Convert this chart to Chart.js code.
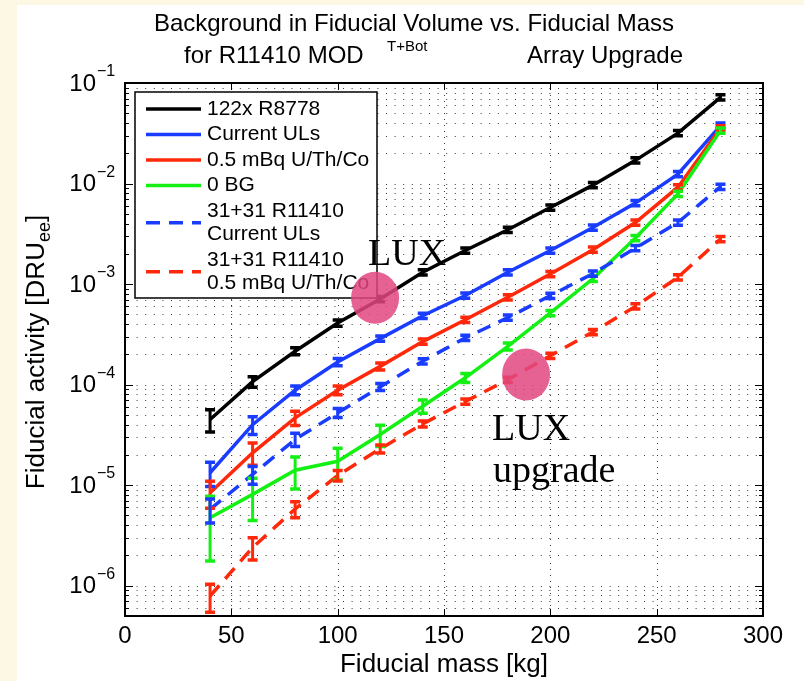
<!DOCTYPE html>
<html>
<head>
<meta charset="utf-8">
<title>Background in Fiducial Volume vs. Fiducial Mass</title>
<script src="https://cdn.jsdelivr.net/npm/chart.js@4.4.1/dist/chart.umd.min.js"></script>
<style>
  html, body { margin: 0; padding: 0; background: #fff; }
  #wrap { width: 804px; height: 681px; }
</style>
</head>
<body>
<div id="wrap"><canvas id="bgChart" width="804" height="681"></canvas></div>
<script>
// ---- data ----
const MASS_KG = [40, 60, 80, 100, 120, 140, 160, 180, 200, 220, 240, 260, 280];

const R8778_122X   = [4.5e-5, 1.07e-4, 2.15e-4, 4.1e-4, 7.1e-4, 1.31e-3, 2.16e-3, 3.47e-3, 5.78e-3, 9.64e-3, 1.70e-2, 3.17e-2, 7.2e-2];
const CURRENT_ULS  = [1.33e-5, 4.0e-5, 8.8e-5, 1.68e-4, 2.87e-4, 4.85e-4, 7.7e-4, 1.31e-3, 2.16e-3, 3.66e-3, 6.39e-3, 1.24e-2, 3.77e-2];
const LOW_UTHCO    = [8.4e-6, 2.1e-5, 4.68e-5, 8.8e-5, 1.52e-4, 2.68e-4, 4.42e-4, 7.4e-4, 1.26e-3, 2.2e-3, 4.1e-3, 9.2e-3, 3.55e-2];
const ZERO_BG      = [4.75e-6, 8.1e-6, 1.41e-5, 1.73e-5, 3.19e-5, 6.1e-5, 1.17e-4, 2.4e-4, 5.16e-4, 1.13e-3, 2.87e-3, 7.9e-3, 3.36e-2];
const R11410_ULS   = [5.75e-6, 1.28e-5, 2.85e-5, 5.25e-5, 9.5e-5, 1.71e-4, 2.92e-4, 4.64e-4, 7.67e-4, 1.27e-3, 2.28e-3, 4.1e-3, 9.3e-3];
const R11410_UTHCO = [7.9e-7, 2.4e-6, 5.8e-6, 1.25e-5, 2.3e-5, 4.07e-5, 6.8e-5, 1.12e-4, 1.94e-4, 3.34e-4, 6.0e-4, 1.17e-3, 2.8e-3];

// error bars, as fraction of the value (+/-)
const ERR_R8778_122X   = [0.25, 0.12, 0.08, 0.07, 0.06, 0.06, 0.06, 0.06, 0.06, 0.06, 0.06, 0.06, 0.06];
const ERR_CURRENT_ULS  = [0.27, 0.20, 0.10, 0.08, 0.06, 0.06, 0.06, 0.06, 0.06, 0.06, 0.06, 0.06, 0.06];
const ERR_LOW_UTHCO    = [0.30, 0.25, 0.16, 0.10, 0.08, 0.06, 0.06, 0.06, 0.06, 0.06, 0.06, 0.06, 0.06];
const ERR_ZERO_BG      = [0.63, 0.45, 0.35, 0.35, 0.24, 0.15, 0.10, 0.08, 0.06, 0.06, 0.06, 0.06, 0.06];
const ERR_R11410_ULS   = [0.27, 0.20, 0.15, 0.10, 0.08, 0.06, 0.06, 0.06, 0.06, 0.06, 0.06, 0.06, 0.06];
const ERR_R11410_UTHCO = [0.31, 0.25, 0.18, 0.12, 0.09, 0.07, 0.06, 0.06, 0.06, 0.06, 0.06, 0.06, 0.06];

const LEGEND_LABELS = [
    ['122x R8778'],
    ['Current ULs'],
    ['0.5 mBq U/Th/Co'],
    ['0 BG'],
    ['31+31 R11410', 'Current ULs'],
    ['31+31 R11410', '0.5 mBq U/Th/Co']
];

const X_TICKS = [0, 50, 100, 150, 200, 250, 300];
const Y_TICKS = [1e-6, 1e-5, 1e-4, 1e-3, 1e-2, 1e-1];
const Y_TICK_EXP = ['\u22126', '\u22125', '\u22124', '\u22123', '\u22122', '\u22121'];

// ---- styles ----
const SANS = '"Liberation Sans", Arial, Helvetica, sans-serif';
const SERIF = '"Liberation Serif", "Times New Roman", serif';
const BLUE = '#193cff';
const RED = '#ff280a';
const GREEN = '#14f014';
const DASH = [14, 9];

function makeSet(label, values, err, color, dash) {
    return {
        label: label.join(' '),
        data: MASS_KG.map((m, i) => ({ x: m, y: values[i] })),
        errFrac: err,
        legendLines: label,
        borderColor: color,
        backgroundColor: color,
        borderWidth: 3.5,
        borderDash: dash,
        pointRadius: 0,
        tension: 0,
        fill: false
    };
}

const datasets = [
    makeSet(LEGEND_LABELS[0], R8778_122X, ERR_R8778_122X, '#000000', []),
    makeSet(LEGEND_LABELS[1], CURRENT_ULS, ERR_CURRENT_ULS, BLUE, []),
    makeSet(LEGEND_LABELS[2], LOW_UTHCO, ERR_LOW_UTHCO, RED, []),
    makeSet(LEGEND_LABELS[3], ZERO_BG, ERR_ZERO_BG, GREEN, []),
    makeSet(LEGEND_LABELS[4], R11410_ULS, ERR_R11410_ULS, BLUE, DASH),
    makeSet(LEGEND_LABELS[5], R11410_UTHCO, ERR_R11410_UTHCO, RED, DASH)
];
// later series drawn on top, like matlab
datasets.forEach((ds, i) => { ds.order = datasets.length - i; });

// draw text with a raised/lowered small part
function drawRich(ctx, parts, x, y) {
    parts.forEach(p => {
        ctx.font = p.size + 'px ' + SANS;
        ctx.fillText(p.text, x, y + (p.dy || 0));
        x += ctx.measureText(p.text).width + (p.gap || 0);
    });
    return x;
}
function richWidth(ctx, parts) {
    let w = 0;
    parts.forEach(p => {
        ctx.font = p.size + 'px ' + SANS;
        w += ctx.measureText(p.text).width + (p.gap || 0);
    });
    return w;
}

const matlabPlugin = {
    id: 'matlabLook',
    beforeDraw(chart) {
        const { ctx, width, height } = chart;
        ctx.save();
        ctx.fillStyle = '#fdf8e3';
        ctx.fillRect(0, 0, width, height);
        ctx.fillStyle = '#ffffff';
        ctx.fillRect(17, 5, width - 17, height - 5);
        ctx.restore();
    },
    beforeDatasetsDraw(chart) {
        const { ctx, chartArea: a, scales: { x, y } } = chart;
        ctx.save();
        ctx.lineWidth = 1;
        ctx.strokeStyle = '#3a3a3a';
        // horizontal dotted grid at every minor decade step
        ctx.setLineDash([1, 7.6]);
        const decades = [Y_TICKS[0] / 10].concat(Y_TICKS);
        decades.forEach(d => {
            for (let k = 1; k <= 9; k++) {
                const v = d * k;
                if (v < y.min * 0.999 || v > y.max * 1.001) continue;
                const py = Math.round(y.getPixelForValue(v)) + 0.5;
                ctx.beginPath();
                ctx.moveTo(a.left + 3, py);
                ctx.lineTo(a.right, py);
                ctx.stroke();
            }
        });
        // vertical dotted grid at major x ticks
        ctx.setLineDash([1, 5]);
        X_TICKS.slice(1, -1).forEach(t => {
            const px = Math.round(x.getPixelForValue(t)) + 0.5;
            ctx.beginPath();
            ctx.moveTo(px, a.top);
            ctx.lineTo(px, a.bottom);
            ctx.stroke();
        });
        ctx.restore();
    },
    afterDatasetsDraw(chart) {
        const { ctx, scales: { y } } = chart;
        // error bars with caps
        chart.data.datasets.forEach((ds, i) => {
            const meta = chart.getDatasetMeta(i);
            ctx.save();
            ctx.strokeStyle = ds.borderColor;
            ctx.setLineDash([]);
            meta.data.forEach((pt, j) => {
                const v = ds.data[j].y;
                const e = ds.errFrac[j];
                const yHi = y.getPixelForValue(v * (1 + e));
                const yLo = y.getPixelForValue(v * (1 - e));
                ctx.lineWidth = 3;
                ctx.beginPath();
                ctx.moveTo(pt.x, yHi);
                ctx.lineTo(pt.x, yLo);
                ctx.stroke();
                ctx.lineWidth = 3.5;
                ctx.beginPath();
                ctx.moveTo(pt.x - 5, yHi);
                ctx.lineTo(pt.x + 5, yHi);
                ctx.moveTo(pt.x - 5, yLo);
                ctx.lineTo(pt.x + 5, yLo);
                ctx.stroke();
            });
            ctx.restore();
        });
    },
    afterDraw(chart) {
        const { ctx, chartArea: a, scales: { x, y } } = chart;
        ctx.save();

        // axes box
        ctx.setLineDash([]);
        ctx.strokeStyle = '#000';
        ctx.lineWidth = 2;
        ctx.strokeRect(a.left, a.top, a.right - a.left, a.bottom - a.top);

        // inward ticks
        ctx.lineWidth = 1;
        X_TICKS.slice(1, -1).forEach(t => {
            const px = Math.round(x.getPixelForValue(t)) + 0.5;
            ctx.beginPath();
            ctx.moveTo(px, a.bottom); ctx.lineTo(px, a.bottom - 7);
            ctx.moveTo(px, a.top); ctx.lineTo(px, a.top + 7);
            ctx.stroke();
        });
        const decades = [Y_TICKS[0] / 10].concat(Y_TICKS);
        decades.forEach(d => {
            for (let k = 1; k <= 9; k++) {
                const v = d * k;
                if (v < y.min * 0.999 || v > y.max * 1.001) continue;
                const py = Math.round(y.getPixelForValue(v)) + 0.5;
                const len = k === 1 ? 8 : 4;
                ctx.beginPath();
                ctx.moveTo(a.left, py); ctx.lineTo(a.left + len, py);
                ctx.moveTo(a.right, py); ctx.lineTo(a.right - len, py);
                ctx.stroke();
            }
        });

        // y tick labels 10^-n
        ctx.fillStyle = '#000';
        Y_TICKS.forEach((v, i) => {
            const py = y.getPixelForValue(v);
            ctx.font = '24px ' + SANS;
            ctx.textAlign = 'right';
            ctx.textBaseline = 'middle';
            ctx.fillText('10', 96, py + 1);
            ctx.font = '16px ' + SANS;
            ctx.textAlign = 'left';
            ctx.textBaseline = 'alphabetic';
            ctx.fillText(Y_TICK_EXP[i], 97, py - 7);
        });

        // axis titles
        ctx.textAlign = 'center';
        ctx.textBaseline = 'alphabetic';
        ctx.font = '26px ' + SANS;
        ctx.fillText('Fiducial mass [kg]', (a.left + a.right) / 2, 672);

        const yTitle = [
            { text: 'Fiducial activity [DRU', size: 26 },
            { text: 'ee', size: 18, dy: 6 },
            { text: ']', size: 26 }
        ];
        ctx.save();
        ctx.translate(44, 352);
        ctx.rotate(-Math.PI / 2);
        ctx.textAlign = 'left';
        drawRich(ctx, yTitle, -richWidth(ctx, yTitle) / 2, 0);
        ctx.restore();

        // title
        ctx.textAlign = 'center';
        ctx.font = '24px ' + SANS;
        ctx.fillText('Background in Fiducial Volume vs. Fiducial Mass', 414, 31);
        ctx.textAlign = 'left';
        ctx.font = '24px ' + SANS;
        ctx.fillText('for R11410 MOD', 184, 63);
        ctx.font = '15px ' + SANS;
        ctx.fillText('T+Bot', 387, 51);
        ctx.font = '24px ' + SANS;
        ctx.textAlign = 'right';
        ctx.fillText('Array Upgrade', 683, 63);

        // legend
        const lx = 135, ly = 92, lw = 242, lh = 206;
        ctx.fillStyle = '#fff';
        ctx.fillRect(lx, ly, lw, lh);
        ctx.strokeStyle = '#000';
        ctx.lineWidth = 1.5;
        ctx.strokeRect(lx, ly, lw, lh);
        ctx.font = '21px ' + SANS;
        ctx.textAlign = 'left';
        ctx.textBaseline = 'middle';
        let ty = 109;
        chart.data.datasets.forEach(ds => {
            const lines = ds.legendLines;
            const sy = ty + (lines.length - 1) * 23.5 / 2;
            ctx.strokeStyle = ds.borderColor;
            ctx.lineWidth = 3.5;
            ctx.setLineDash(ds.borderDash);
            ctx.beginPath();
            ctx.moveTo(146, sy);
            ctx.lineTo(201, sy);
            ctx.stroke();
            ctx.setLineDash([]);
            ctx.fillStyle = '#000';
            lines.forEach(t => {
                ctx.fillText(t, 207, ty);
                ty += 23.5;
            });
            ty += 2;
        });

        // LUX markers
        ctx.fillStyle = 'rgba(226, 70, 128, 0.85)';
        [[117.6, 7.3e-4], [188.6, 1.26e-4]].forEach(([mx, my]) => {
            ctx.beginPath();
            ctx.ellipse(x.getPixelForValue(mx), y.getPixelForValue(my), 24, 26, 0, 0, Math.PI * 2);
            ctx.fill();
        });
        ctx.fillStyle = '#000';
        ctx.textBaseline = 'alphabetic';
        ctx.textAlign = 'left';
        ctx.font = '38px ' + SERIF;
        ctx.fillText('LUX', 368, 265);
        ctx.fillText('LUX', 492, 440);
        ctx.fillText('upgrade', 493, 482);

        ctx.restore();
    }
};

new Chart(document.getElementById('bgChart'), {
    type: 'line',
    data: { datasets: datasets },
    options: {
        responsive: false,
        animation: false,
        layout: { padding: { top: 83, right: 41, bottom: 0, left: 0 } },
        plugins: {
            legend: { display: false },
            tooltip: { enabled: false },
            title: { display: false }
        },
        scales: {
            x: {
                type: 'linear',
                min: 0,
                max: 300,
                afterFit: (s) => { s.height = 65; },
                afterBuildTicks: (s) => { s.ticks = X_TICKS.map(v => ({ value: v })); },
                ticks: {
                    color: '#000',
                    font: { family: SANS, size: 24 },
                    padding: 6,
                    maxRotation: 0,
                    autoSkip: false
                },
                grid: { display: false, drawTicks: false },
                border: { display: false }
            },
            y: {
                type: 'logarithmic',
                min: 5e-7,
                max: 1e-1,
                afterFit: (s) => { s.width = 125; },
                ticks: { display: false },
                grid: { display: false, drawTicks: false },
                border: { display: false }
            }
        }
    },
    plugins: [matlabPlugin]
});
</script>
</body>
</html>
